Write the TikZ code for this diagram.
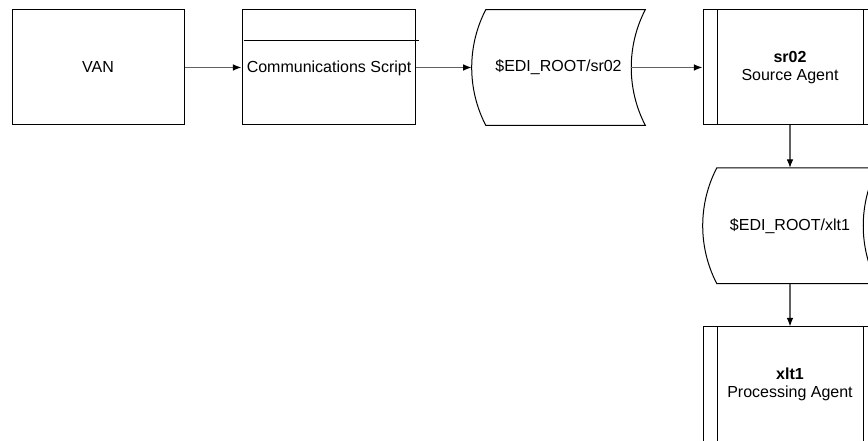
\documentclass[tikz,border=0pt]{standalone}
\usepackage{fontspec}
\setmainfont{Liberation Sans}
\usetikzlibrary{arrows.meta,calc}
\tikzset{
  boxshape/.style={draw=black, line width=0.75pt, minimum height=86.25pt, inner sep=0pt, align=center},
  plainshape/.style={draw=none, minimum height=86.25pt, inner sep=0pt, align=center},
  outline/.style={draw=black, line width=0.75pt},
  flow/.style={draw=black!62, line width=0.9pt, -{Latex[length=6.5pt,width=5pt,color=black]}},
}
\begin{document}
\begin{tikzpicture}[x=0.75pt,y=-0.75pt,font=\fontsize{12pt}{13.5pt}\selectfont]
\useasboundingbox (0,0) rectangle (868,441);
\clip (0,0) rectangle (868,441);
\fill[white] (0,0) rectangle (868,441);

% VAN
\node[boxshape, minimum width=129pt] (van) at (98,67.5) {VAN};

% Communications Script
\node[boxshape, minimum width=129.75pt] (comm) at (328.5,67.5) {};
\node[anchor=west, inner sep=0pt] (commtext) at ($(comm.west)+(5,0.5)$) {Communications Script};
\draw[outline] ($(comm.north west)+(2,31)$) -- ($(comm.north east)+(3,31)$);

% Stored data sr02
\node[plainshape, minimum width=129.75pt] (s1) at (558.5,67.5) {\$EDI\_ROOT/sr02};
\draw[outline] ($(s1.north west)+(14,0)$) -- (s1.north east)
  .. controls ($(s1.north east)+(-18.7,36)$) and ($(s1.south east)+(-18.7,-36)$) .. (s1.south east)
  -- ($(s1.south west)+(14,0)$)
  .. controls ($(s1.south west)+(-4.7,-36)$) and ($(s1.north west)+(-4.7,36)$) .. cycle;
\coordinate (s1out) at ($(s1.east)+(-14,0)$);

% Source agent sr02
\node[boxshape, minimum width=130.5pt] (a1) at (790,67.5) {\textbf{sr02}\\Source Agent};
\draw[outline] ($(a1.north west)+(14.5,0)$) -- ($(a1.south west)+(14.5,0)$);
\draw[outline] ($(a1.north east)+(-14.5,0)$) -- ($(a1.south east)+(-14.5,0)$);

% Stored data xlt1
\node[plainshape, minimum width=130.5pt] (s2) at (790,225.75) {\$EDI\_ROOT/xlt1};
\draw[outline] ($(s2.north west)+(14,0)$) -- (s2.north east)
  .. controls ($(s2.north east)+(-18.7,36)$) and ($(s2.south east)+(-18.7,-36)$) .. (s2.south east)
  -- ($(s2.south west)+(14,0)$)
  .. controls ($(s2.south west)+(-4.7,-36)$) and ($(s2.north west)+(-4.7,36)$) .. cycle;

% Processing agent xlt1
\node[boxshape, minimum width=130.5pt] (a2) at (790,384.5) {\textbf{xlt1}\\Processing Agent};
\draw[outline] ($(a2.north west)+(14.5,0)$) -- ($(a2.south west)+(14.5,0)$);
\draw[outline] ($(a2.north east)+(-14.5,0)$) -- ($(a2.south east)+(-14.5,0)$);

% Connectors
\draw[flow] (van.east) -- (comm.west);
\draw[flow] (comm.east) -- (s1.west);
\draw[flow] (s1out) -- (a1.west);
\draw[flow] (a1.south) -- (s2.north);
\draw[flow] (s2.south) -- (a2.north);
\end{tikzpicture}
\end{document}
